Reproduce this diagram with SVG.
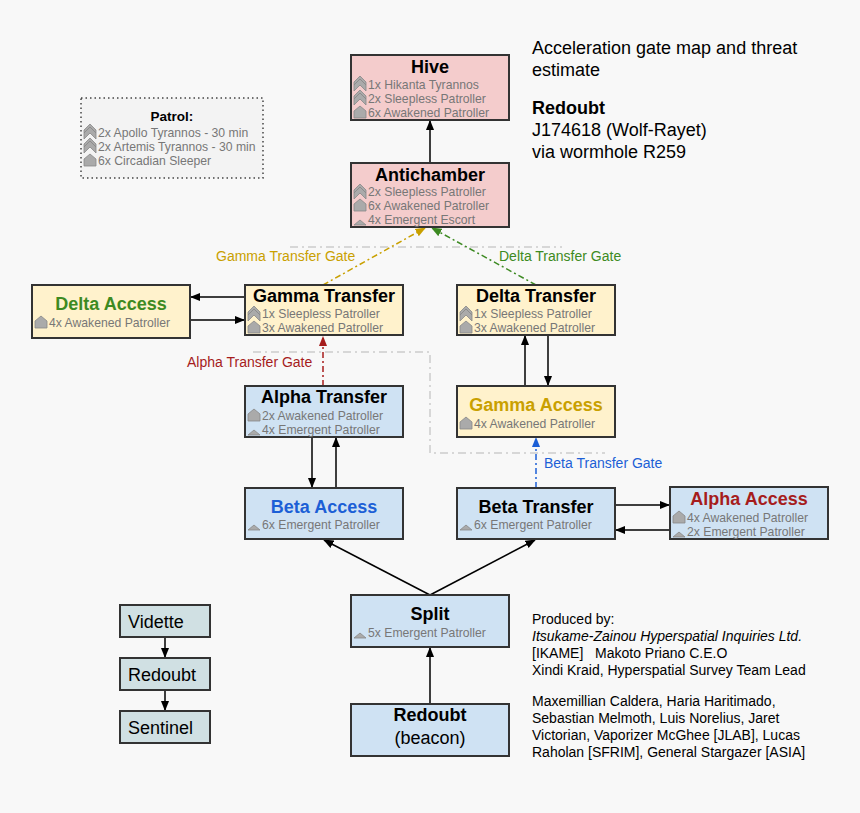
<svg xmlns="http://www.w3.org/2000/svg" width="860" height="813" viewBox="0 0 860 813">
<defs>
<style>
text{font-family:"Liberation Sans",Arial,sans-serif}
.box{stroke:#333;stroke-width:2}
.pk{fill:#f4cccc}.yl{fill:#fff2cc}.bl{fill:#cfe2f3}.gr{fill:#d0e0e3}
.t{font-size:18px;font-weight:bold;text-anchor:middle;fill:#000}
.s{font-size:12.2px;fill:#777}
.c{stroke:#000;stroke-width:1.5;fill:none}
.ic{fill:#aaa;stroke:#888;stroke-width:0.8}
.r{font-size:18px;fill:#000}
.p{font-size:14px;fill:#000}
.g{font-size:14px}
</style>
<marker id="a" viewBox="0 0 10 10" refX="9" refY="5" markerWidth="7" markerHeight="7" orient="auto"><path d="M0,1 L10,5 L0,9 z" fill="#000"/></marker>
<marker id="ay" viewBox="0 0 10 10" refX="9" refY="5" markerWidth="7" markerHeight="7" orient="auto"><path d="M0,1 L10,5 L0,9 z" fill="#c9a000"/></marker>
<marker id="ag" viewBox="0 0 10 10" refX="9" refY="5" markerWidth="7" markerHeight="7" orient="auto"><path d="M0,1 L10,5 L0,9 z" fill="#3d8a22"/></marker>
<marker id="ar" viewBox="0 0 10 10" refX="9" refY="5" markerWidth="7" markerHeight="7" orient="auto"><path d="M0,1 L10,5 L0,9 z" fill="#a61c1c"/></marker>
<marker id="ab" viewBox="0 0 10 10" refX="9" refY="5" markerWidth="7" markerHeight="7" orient="auto"><path d="M0,1 L10,5 L0,9 z" fill="#1c5fd6"/></marker>
<g id="chev"><path class="ic" d="M0,7 L6,1 L12,7 L12,13 L6,7 L0,13 z"/><path class="ic" d="M0,4 L6,-2 L12,4 L12,7 L6,1 L0,7 z"/></g>
<g id="house"><path class="ic" d="M0,12 L0,5 L6,0 L12,5 L12,12 z"/></g>
<g id="tri"><path class="ic" d="M0,12 L6,7 L12,12 z"/></g>
</defs>
<rect width="860" height="813" fill="#f8f8f8"/>

<g id="connectors">
<line class="c" x1="430" y1="163" x2="430" y2="121" marker-end="url(#a)"/>
<path d="M290,247 H562" stroke="#ccc" stroke-width="1.5" stroke-dasharray="8,4,2,4" fill="none"/>
<path d="M253,352 H430 V453 H605" stroke="#ccc" stroke-width="1.5" stroke-dasharray="8,4,2,4" fill="none"/>
<line x1="323" y1="285" x2="425" y2="228" stroke="#c9a000" stroke-width="1.5" stroke-dasharray="6,3,2,3" marker-end="url(#ay)"/>
<line x1="536" y1="285" x2="432" y2="228" stroke="#3d8a22" stroke-width="1.5" stroke-dasharray="6,3,2,3" marker-end="url(#ag)"/>
<line class="c" x1="245" y1="297" x2="191" y2="297" marker-end="url(#a)"/>
<line class="c" x1="190" y1="320" x2="244" y2="320" marker-end="url(#a)"/>
<line x1="323" y1="386" x2="323" y2="337" stroke="#a61c1c" stroke-width="1.5" stroke-dasharray="6,3,2,3" marker-end="url(#ar)"/>
<line class="c" x1="525" y1="386" x2="525" y2="336" marker-end="url(#a)"/>
<line class="c" x1="548" y1="335" x2="548" y2="385" marker-end="url(#a)"/>
<line x1="536" y1="488" x2="536" y2="438" stroke="#1c5fd6" stroke-width="1.5" stroke-dasharray="6,3,2,3" marker-end="url(#ab)"/>
<line class="c" x1="312" y1="437" x2="312" y2="487" marker-end="url(#a)"/>
<line class="c" x1="336" y1="488" x2="336" y2="438" marker-end="url(#a)"/>
<line class="c" x1="615" y1="505" x2="669" y2="505" marker-end="url(#a)"/>
<line class="c" x1="670" y1="530" x2="616" y2="530" marker-end="url(#a)"/>
<line class="c" x1="430" y1="595" x2="324" y2="540" marker-end="url(#a)"/>
<line class="c" x1="430" y1="595" x2="535" y2="540" marker-end="url(#a)"/>
<line class="c" x1="430" y1="704" x2="430" y2="648" marker-end="url(#a)"/>
<line class="c" x1="165" y1="637" x2="165" y2="657" marker-end="url(#a)"/>
<line class="c" x1="165" y1="690" x2="165" y2="710" marker-end="url(#a)"/>
<text class="g" x="216" y="261" fill="#c9a000">Gamma Transfer Gate</text>
<text class="g" x="499" y="261" fill="#3d8a22">Delta Transfer Gate</text>
<text class="g" x="187" y="367" fill="#a61c1c">Alpha Transfer Gate</text>
<text class="g" x="544" y="468" fill="#1c5fd6">Beta Transfer Gate</text>
</g>

<g id="patrol">
<rect x="81" y="98" width="182" height="80" fill="#f3f3f3" stroke="#444" stroke-width="1.5" stroke-dasharray="1.5,3"/>
<text x="172" y="121" font-size="13.5" font-weight="bold" text-anchor="middle">Patrol:</text>
<use href="#chev" x="84" y="126"/><text class="s" x="98" y="137">2x Apollo Tyrannos - 30 min</text>
<use href="#chev" x="84" y="140"/><text class="s" x="98" y="151">2x Artemis Tyrannos - 30 min</text>
<use href="#house" x="84" y="154"/><text class="s" x="98" y="165">6x Circadian Sleeper</text>
</g>

<g id="hive">
<rect class="box pk" x="351" y="55" width="158" height="65"/>
<text class="t" x="430" y="73">Hive</text>
<use href="#chev" x="354" y="78"/><text class="s" x="368" y="89">1x Hikanta Tyrannos</text>
<use href="#chev" x="354" y="92"/><text class="s" x="368" y="103">2x Sleepless Patroller</text>
<use href="#house" x="354" y="106"/><text class="s" x="368" y="117">6x Awakened Patroller</text>
</g>
<g id="antichamber">
<rect class="box pk" x="351" y="163" width="158" height="64"/>
<text class="t" x="430" y="181">Antichamber</text>
<use href="#chev" x="354" y="186"/><text class="s" x="368" y="196">2x Sleepless Patroller</text>
<use href="#house" x="354" y="199"/><text class="s" x="368" y="210">6x Awakened Patroller</text>
<use href="#tri" x="354" y="213"/><text class="s" x="368" y="224">4x Emergent Escort</text>
</g>
<g id="delta-access">
<rect class="box yl" x="32" y="285" width="158" height="53"/>
<text class="t" x="111" y="310" style="fill:#3d8a22">Delta Access</text>
<use href="#house" x="35" y="316"/><text class="s" x="49" y="327">4x Awakened Patroller</text>
</g>
<g id="gamma-transfer">
<rect class="box yl" x="245" y="285" width="158" height="50"/>
<text class="t" x="324" y="302">Gamma Transfer</text>
<use href="#chev" x="248" y="308"/><text class="s" x="262" y="318">1x Sleepless Patroller</text>
<use href="#house" x="248" y="321"/><text class="s" x="262" y="332">3x Awakened Patroller</text>
</g>
<g id="delta-transfer">
<rect class="box yl" x="457" y="285" width="158" height="50"/>
<text class="t" x="536" y="302">Delta Transfer</text>
<use href="#chev" x="460" y="308"/><text class="s" x="474" y="318">1x Sleepless Patroller</text>
<use href="#house" x="460" y="321"/><text class="s" x="474" y="332">3x Awakened Patroller</text>
</g>
<g id="alpha-transfer">
<rect class="box bl" x="245" y="386" width="158" height="51"/>
<text class="t" x="324" y="403">Alpha Transfer</text>
<use href="#house" x="248" y="409"/><text class="s" x="262" y="420">2x Awakened Patroller</text>
<use href="#tri" x="248" y="423"/><text class="s" x="262" y="434">4x Emergent Patroller</text>
</g>
<g id="gamma-access">
<rect class="box yl" x="457" y="386" width="158" height="51"/>
<text class="t" x="536" y="411" style="fill:#c9a000">Gamma Access</text>
<use href="#house" x="460" y="417"/><text class="s" x="474" y="428">4x Awakened Patroller</text>
</g>
<g id="beta-access">
<rect class="box bl" x="245" y="488" width="158" height="51"/>
<text class="t" x="324" y="513" style="fill:#1c5fd6">Beta Access</text>
<use href="#tri" x="248" y="518"/><text class="s" x="262" y="529">6x Emergent Patroller</text>
</g>
<g id="beta-transfer">
<rect class="box bl" x="457" y="488" width="158" height="51"/>
<text class="t" x="536" y="513">Beta Transfer</text>
<use href="#tri" x="460" y="518"/><text class="s" x="474" y="529">6x Emergent Patroller</text>
</g>
<g id="alpha-access">
<rect class="box bl" x="670" y="487" width="158" height="52"/>
<text class="t" x="749" y="505" style="fill:#a61c1c">Alpha Access</text>
<use href="#house" x="673" y="511"/><text class="s" x="687" y="522">4x Awakened Patroller</text>
<use href="#tri" x="673" y="525"/><text class="s" x="687" y="536">2x Emergent Patroller</text>
</g>
<g id="split">
<rect class="box bl" x="351" y="595" width="158" height="52"/>
<text class="t" x="430" y="620">Split</text>
<use href="#tri" x="354" y="626"/><text class="s" x="368" y="637">5x Emergent Patroller</text>
</g>
<g id="redoubt-beacon">
<rect class="box bl" x="351" y="704" width="158" height="52"/>
<text class="t" x="430" y="721">Redoubt</text>
<text x="430" y="744" font-size="18" text-anchor="middle">(beacon)</text>
</g>
<g id="vidette"><rect class="box gr" x="120" y="605" width="90" height="32"/><text x="128" y="628" font-size="18">Vidette</text></g>
<g id="redoubt"><rect class="box gr" x="120" y="658" width="90" height="32"/><text x="128" y="681" font-size="18">Redoubt</text></g>
<g id="sentinel"><rect class="box gr" x="120" y="711" width="90" height="32"/><text x="128" y="734" font-size="18">Sentinel</text></g>

<g id="info">
<text class="r" x="532" y="54">Acceleration gate map and threat</text>
<text class="r" x="532" y="76">estimate</text>
<text class="r" x="532" y="114" font-weight="bold">Redoubt</text>
<text class="r" x="532" y="136">J174618 (Wolf-Rayet)</text>
<text class="r" x="532" y="158">via wormhole R259</text>
<text class="p" x="532" y="624">Produced by:</text>
<text class="p" x="532" y="641" font-style="italic">Itsukame-Zainou Hyperspatial Inquiries Ltd.</text>
<text class="p" x="532" y="658" xml:space="preserve">[IKAME]   Makoto Priano C.E.O</text>
<text class="p" x="532" y="675">Xindi Kraid, Hyperspatial Survey Team Lead</text>
<text class="p" x="532" y="706">Maxemillian Caldera, Haria Haritimado,</text>
<text class="p" x="532" y="723">Sebastian Melmoth, Luis Norelius, Jaret</text>
<text class="p" x="532" y="740">Victorian, Vaporizer McGhee [JLAB], Lucas</text>
<text class="p" x="532" y="757">Raholan [SFRIM], General Stargazer [ASIA]</text>
</g>
</svg>
